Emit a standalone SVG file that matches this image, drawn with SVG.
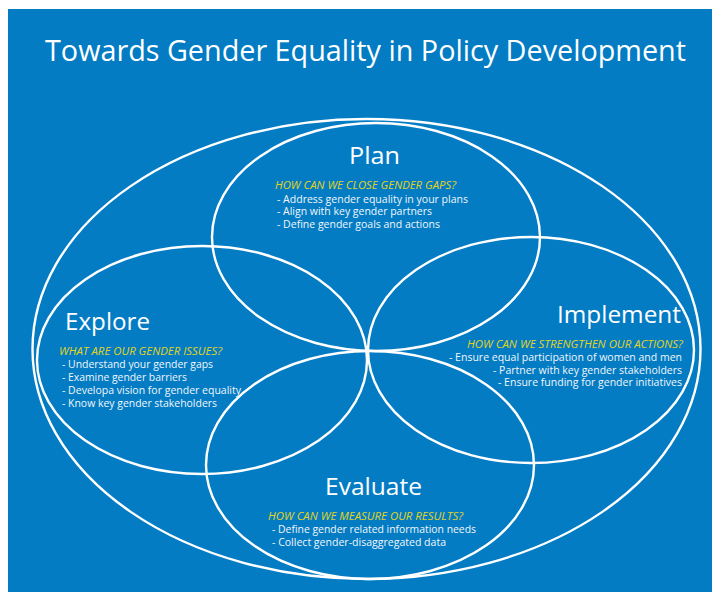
<svg xmlns="http://www.w3.org/2000/svg" width="712" height="592" viewBox="0 0 712 592">
<style>
.ring{fill:none;stroke:#ffffff;stroke-width:2.4}
.title{font-family:"Open Sans","Noto Sans",sans-serif;fill:#ffffff;font-size:29px}
.head{font-family:"Open Sans","Noto Sans",sans-serif;fill:#ffffff;font-size:23px}
.q{font-family:"Open Sans","Noto Sans",sans-serif;fill:#e2d41c;font-size:10px;font-style:italic}
.b{font-family:"Open Sans","Noto Sans",sans-serif;fill:#f2f6fa;font-size:10px}
</style>
<rect x="0" y="0" width="712" height="592" fill="#ffffff"/>
<rect x="8" y="9" width="704" height="583" fill="#037cc4"/>
<text class="title" x="45" y="61" textLength="641" lengthAdjust="spacingAndGlyphs">Towards Gender Equality in Policy Development</text>
<g id="outer"><ellipse class="ring" cx="366.5" cy="349" rx="334" ry="230"/></g>
<g id="plan">
<ellipse class="ring" cx="376" cy="237" rx="164" ry="114"/>
<text class="head" x="349" y="164" textLength="51" lengthAdjust="spacingAndGlyphs">Plan</text>
<text class="q" x="275" y="189" textLength="181" lengthAdjust="spacingAndGlyphs">HOW CAN WE CLOSE GENDER GAPS?</text>
<text class="b" x="277" y="202.5" textLength="191" lengthAdjust="spacingAndGlyphs">- Address gender equality in your plans</text>
<text class="b" x="277" y="215" textLength="155" lengthAdjust="spacingAndGlyphs">- Align with key gender partners</text>
<text class="b" x="277" y="228" textLength="163" lengthAdjust="spacingAndGlyphs">- Define gender goals and actions</text>
</g>
<g id="explore">
<ellipse class="ring" cx="202" cy="360" rx="165" ry="114"/>
<text class="head" x="65" y="330" textLength="85" lengthAdjust="spacingAndGlyphs">Explore</text>
<text class="q" x="59" y="355" textLength="163" lengthAdjust="spacingAndGlyphs">WHAT ARE OUR GENDER ISSUES?</text>
<text class="b" x="62" y="368" textLength="151" lengthAdjust="spacingAndGlyphs">- Understand your gender gaps</text>
<text class="b" x="62" y="381" textLength="125" lengthAdjust="spacingAndGlyphs">- Examine gender barriers</text>
<text class="b" x="62" y="394" textLength="179" lengthAdjust="spacingAndGlyphs">- Developa vision for gender equality</text>
<text class="b" x="62" y="407" textLength="155" lengthAdjust="spacingAndGlyphs">- Know key gender stakeholders</text>
</g>
<g id="implement">
<ellipse class="ring" cx="531" cy="350" rx="163" ry="113"/>
<text class="head" x="557" y="323" textLength="124" lengthAdjust="spacingAndGlyphs">Implement</text>
<text class="q" x="467" y="348" textLength="216" lengthAdjust="spacingAndGlyphs">HOW CAN WE STRENGTHEN OUR ACTIONS?</text>
<text class="b" x="449" y="361" textLength="233" lengthAdjust="spacingAndGlyphs">- Ensure equal participation of women and men</text>
<text class="b" x="493" y="373.5" textLength="189" lengthAdjust="spacingAndGlyphs">- Partner with key gender stakeholders</text>
<text class="b" x="498" y="386" textLength="184" lengthAdjust="spacingAndGlyphs">- Ensure funding for gender initiatives</text>
</g>
<g id="evaluate">
<ellipse class="ring" cx="370" cy="465" rx="164" ry="114"/>
<text class="head" x="325" y="495" textLength="97" lengthAdjust="spacingAndGlyphs">Evaluate</text>
<text class="q" x="268" y="520" textLength="195" lengthAdjust="spacingAndGlyphs">HOW CAN WE MEASURE OUR RESULTS?</text>
<text class="b" x="272" y="533" textLength="204" lengthAdjust="spacingAndGlyphs">- Define gender related information needs</text>
<text class="b" x="272" y="546" textLength="174" lengthAdjust="spacingAndGlyphs">- Collect gender-disaggregated data</text>
</g>
<g id="connectors"></g>
</svg>
